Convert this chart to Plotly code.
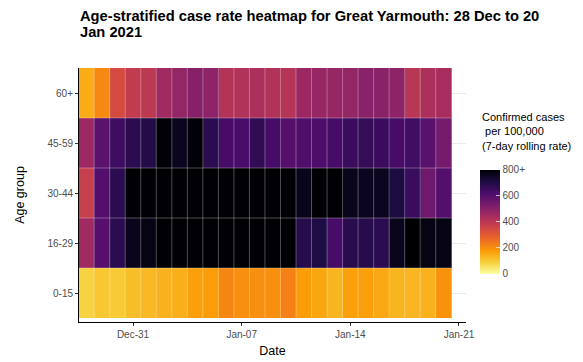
import pandas as pd
import plotly.graph_objects as go

dates = pd.date_range("2020-12-28", "2021-01-20", freq="D")
age_groups = ["0-15", "16-29", "30-44", "45-59", "60+"]

# 7-day rolling case rate per 100,000 (values above 800 shown as 800+)
rate_0_15 = [85, 105, 100, 120, 130, 140, 145, 170, 175, 215, 200, 200,
             200, 225, 175, 160, 135, 170, 172, 155, 135, 133, 142, 195]
rate_16_29 = [455, 600, 680, 765, 780, 850, 860, 870, 880, 870, 860, 850,
              840, 830, 690, 705, 630, 685, 690, 680, 765, 820, 780, 780]
rate_30_44 = [375, 605, 680, 830, 850, 870, 880, 890, 900, 880, 860, 850,
              830, 820, 765, 810, 820, 765, 760, 760, 710, 650, 550, 605]
rate_45_59 = [460, 590, 645, 680, 695, 795, 760, 795, 680, 630, 625, 670,
              630, 600, 610, 615, 630, 650, 660, 650, 628, 640, 595, 540]
rate_60_plus = [150, 210, 340, 385, 395, 455, 480, 505, 490, 415, 420, 430,
                420, 410, 465, 472, 472, 480, 500, 500, 490, 405, 430, 440]

z = [rate_0_15, rate_16_29, rate_30_44, rate_45_59, rate_60_plus]
z_capped = [[min(v, 800) for v in row] for row in z]

cbar_vals = [0, 200, 400, 600, 800]
cbar_text = ["0", "200", "400", "600", "800+"]
x_ticks = ["2020-12-31", "2021-01-07", "2021-01-14", "2021-01-21"]

title_lines = ["Age-stratified case rate heatmap for Great Yarmouth: 28 Dec to 20",
               "Jan 2021"]

FONT = "Liberation Sans, Arial, sans-serif"

fig = go.Figure()
fig.add_trace(go.Heatmap(
    x=dates, y=age_groups, z=z_capped,
    colorscale="Inferno", reversescale=True, zmin=0, zmax=800,
    customdata=z,
    hovertemplate="%{x|%d %b}<br>%{y}: %{customdata}<extra></extra>",
    colorbar=dict(
        thickness=20, lenmode="pixels", len=104,
        x=1.036, xanchor="left", y=0.394, yanchor="middle",
        outlinewidth=0, tickvals=cbar_vals, ticktext=cbar_text,
        ticks="inside", ticklen=4, tickcolor="rgba(255,255,255,0.7)",
        tickfont=dict(size=10, color="#4d4d4d", family=FONT),
        xpad=0, ypad=0,
    ),
))

# thin translucent tile borders
shapes = []
half = pd.Timedelta(hours=12)
for d in dates[1:]:
    xb = (d - half).strftime("%Y-%m-%d %H:%M")
    shapes.append(dict(type="line", xref="x", yref="y", x0=xb, x1=xb,
                       y0=-0.5, y1=len(age_groups) - 0.5,
                       line=dict(color="rgba(255,255,255,0.3)", width=1)))
x_lo = (dates[0] - half).strftime("%Y-%m-%d %H:%M")
x_hi = (dates[-1] + half).strftime("%Y-%m-%d %H:%M")
for k in range(len(age_groups) - 1):
    shapes.append(dict(type="line", xref="x", yref="y", x0=x_lo, x1=x_hi,
                       y0=k + 0.5, y1=k + 0.5,
                       line=dict(color="rgba(255,255,255,0.3)", width=1)))

PLOT_TOP, PLOT_H = 68, 254
annotations = []
for i, line in enumerate(title_lines):
    annotations.append(dict(
        text="<b>" + line + "</b>",
        xref="paper", yref="paper", x=0.0, y=(PLOT_TOP + PLOT_H - (16 + 16 * i)) / PLOT_H,
        xanchor="left", yanchor="middle", align="left", showarrow=False,
        borderpad=0,
        font=dict(size=14.7, family=FONT, color="#000000"),
    ))
annotations.append(dict(
    text="Confirmed cases<br> per 100,000<br>(7-day rolling rate)",
    xref="paper", yref="paper", x=1.036, y=0.84, xanchor="left", yanchor="top",
    align="left", showarrow=False,
    font=dict(size=11, family=FONT, color="#000000"),
))

fig.update_layout(
    width=583, height=362,
    margin=dict(l=79, r=117, t=PLOT_TOP, b=40, autoexpand=False),
    paper_bgcolor="white", plot_bgcolor="white",
    font=dict(family=FONT, color="#000000"),
    shapes=shapes,
    annotations=annotations,
)

fig.update_xaxes(
    type="date", range=["2020-12-27 12:30", "2021-01-21 10:50"],
    tickvals=x_ticks, tickformat="%b-%d", automargin=False,
    tickfont=dict(size=10, color="#4d4d4d"),
    showline=True, linecolor="#000000", linewidth=1,
    ticks="outside", ticklen=3, tickcolor="#333333",
    showgrid=False, zeroline=False,
    title=dict(text="Date", font=dict(size=12.5, color="#000000"), standoff=7),
)
fig.update_yaxes(
    type="category", range=[-0.58, 4.5], automargin=False,
    tickfont=dict(size=10, color="#4d4d4d"),
    showline=True, linecolor="#000000", linewidth=1,
    ticks="outside", ticklen=3, tickcolor="#333333",
    showgrid=True, gridcolor="#ebebeb", gridwidth=1, zeroline=False,
    title=dict(text="Age group", font=dict(size=12.5, color="#000000"), standoff=20),
)

fig.write_html(
    "out.html",
    config={"displayModeBar": False},
    post_script="document.body.style.margin='0';document.body.style.padding='0';",
)
